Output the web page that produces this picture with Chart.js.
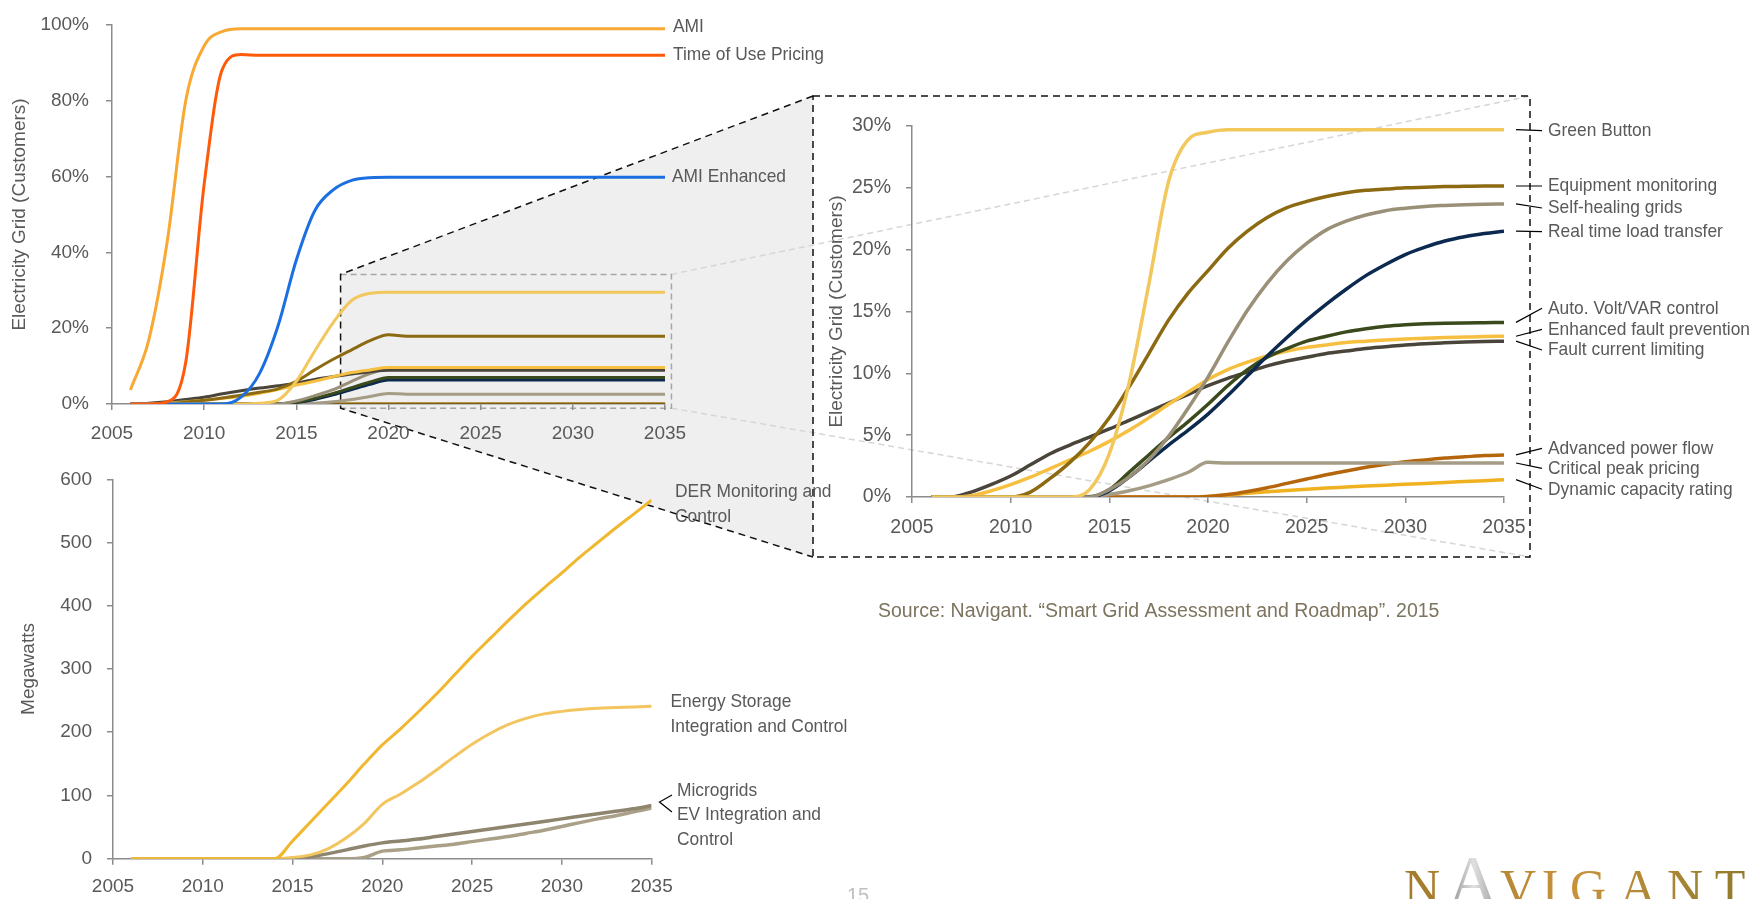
<!DOCTYPE html>
<html lang="en">
<head>
<meta charset="UTF-8">
<title>Smart Grid Assessment and Roadmap</title>
<script src="https://cdn.jsdelivr.net/npm/chart.js"></script>
<style>
  body { margin: 0; background: #fff; }
  #wrap { position: relative; width: 1754px; height: 899px; overflow: hidden; }
  canvas { position: absolute; }
</style>
</head>
<body>
<div id="wrap">
  <canvas id="bg" width="1754" height="899" style="left:0;top:0;z-index:0"></canvas>
  <canvas id="topChart" width="720" height="454" style="left:0;top:-4px;z-index:1"></canvas>
  <canvas id="mwChart" width="700" height="459" style="left:0;top:440px;z-index:1"></canvas>
  <canvas id="zoomChart" width="730" height="461" style="left:813px;top:96px;z-index:1"></canvas>
  <canvas id="fg" width="1754" height="899" style="left:0;top:0;z-index:2"></canvas>
</div>
<script>
// ---- data ----
const years = [2006, 2007, 2008, 2009, 2010, 2011, 2012, 2013, 2014, 2015,
               2016, 2017, 2018, 2019, 2020, 2021, 2022, 2023, 2024, 2025,
               2026, 2027, 2028, 2029, 2030, 2031, 2032, 2033, 2034, 2035];

// top chart, % of customers
const amiTop = [3.7, 17, 43, 80, 94.5, 98.3, 99, 99, 99, 99,
                99, 99, 99, 99, 99, 99, 99, 99, 99, 99,
                99, 99, 99, 99, 99, 99, 99, 99, 99, 99];
const touTop = [0, 0, 0.6, 11, 58, 88.5, 92.2, 92, 92, 92,
                92, 92, 92, 92, 92, 92, 92, 92, 92, 92,
                92, 92, 92, 92, 92, 92, 92, 92, 92, 92];
const amiEnhTop = [0, 0, 0, 0, 0, 0, 1.8, 8, 20.5, 38,
                   51, 56.5, 59, 59.7, 59.8, 59.8, 59.8, 59.8, 59.8, 59.8,
                   59.8, 59.8, 59.8, 59.8, 59.8, 59.8, 59.8, 59.8, 59.8, 59.8];
const greenTop = [0, 0, 0, 0, 0, 0, 0, 0.2, 1, 6,
                  14, 21.5, 27.3, 29.2, 29.5, 29.5, 29.5, 29.5, 29.5, 29.5,
                  29.5, 29.5, 29.5, 29.5, 29.5, 29.5, 29.5, 29.5, 29.5, 29.5];
const equipTop = [0, 0, 0.1, 0.5, 1, 1.6, 2.3, 3.1, 4, 6,
                  9, 11.8, 14.3, 16.7, 18.3, 17.9, 17.9, 17.9, 17.9, 17.9,
                  17.9, 17.9, 17.9, 17.9, 17.9, 17.9, 17.9, 17.9, 17.9, 17.9];
const faultPrevTop = [0, 0, 0.2, 0.6, 1, 1.5, 2, 2.8, 3.8, 5,
                      6, 7.2, 8.3, 9, 9.6, 9.6, 9.6, 9.6, 9.6, 9.6,
                      9.6, 9.6, 9.6, 9.6, 9.6, 9.6, 9.6, 9.6, 9.6, 9.6];
const faultLimTop = [0, 0.2, 0.6, 1.2, 1.8, 2.7, 3.5, 4.2, 4.8, 5.5,
                     6.5, 7.2, 7.9, 8.5, 8.9, 8.9, 8.9, 8.9, 8.9, 8.9,
                     8.9, 8.9, 8.9, 8.9, 8.9, 8.9, 8.9, 8.9, 8.9, 8.9];
const selfHealTop = [0, 0, 0, 0, 0, 0, 0, 0, 0, 0.8,
                     2.2, 3.8, 6, 8, 9.3, 9.2, 9.2, 9.2, 9.2, 9.2,
                     9.2, 9.2, 9.2, 9.2, 9.2, 9.2, 9.2, 9.2, 9.2, 9.2];
const voltTop = [0, 0, 0, 0, 0, 0, 0, 0, 0, 0.5,
                 1.5, 2.8, 4.3, 5.8, 7, 7, 7, 7, 7, 7,
                 7, 7, 7, 7, 7, 7, 7, 7, 7, 7];
const realTimeTop = [0, 0, 0, 0, 0, 0, 0, 0, 0, 0.4,
                     1.2, 2.4, 3.8, 5.2, 6.3, 6.3, 6.3, 6.3, 6.3, 6.3,
                     6.3, 6.3, 6.3, 6.3, 6.3, 6.3, 6.3, 6.3, 6.3, 6.3];
const peakTop = [null, 0, 0, 0, 0, 0, 0, 0, 0, 0,
                 0.2, 0.6, 1.2, 2, 2.8, 2.6, 2.6, 2.6, 2.6, 2.6,
                 2.6, 2.6, 2.6, 2.6, 2.6, 2.6, 2.6, 2.6, 2.6, 2.6];
const powerFlowTop = [0, 0, 0, 0, 0, 0, 0, 0, 0, 0,
                      0, 0, 0, 0, 0, 0, 0, 0, 0, 0,
                      0, 0, 0, 0, 0, 0, 0, 0, 0, 0];
const dynamicTop = [0, 0, 0, 0, 0, 0, 0, 0, 0, 0,
                    0, 0, 0, 0, 0, 0, 0, 0, 0, 0,
                    0, 0, 0, 0, 0, 0, 0, 0, 0, 0];

// inset chart, % of customers
const greenZoom = [0, 0, 0, 0, 0, 0, 0, 0, 0.6, 3.5,
                   9.2, 17.2, 25.5, 28.9, 29.5, 29.7, 29.7, 29.7, 29.7, 29.7,
                   29.7, 29.7, 29.7, 29.7, 29.7, 29.7, 29.7, 29.7, 29.7, 29.7];
const equipZoom = [0, 0, 0, 0, 0, 0.4, 1.5, 2.8, 4.4, 6.4,
                   8.9, 11.6, 14.3, 16.5, 18.3, 20.1, 21.5, 22.6, 23.4, 23.9,
                   24.3, 24.6, 24.8, 24.9, 25, 25.05, 25.1, 25.12, 25.14, 25.15];
const selfHealZoom = [0, 0, 0, 0, 0, 0, 0, 0, 0, 0.6,
                      1.6, 3, 4.9, 7.2, 9.7, 12.5, 15.1, 17.3, 19.1, 20.5,
                      21.6, 22.3, 22.8, 23.15, 23.35, 23.5, 23.58, 23.64, 23.68, 23.7];
const realTimeZoom = [0, 0, 0, 0, 0, 0, 0, 0, 0, 0.5,
                      1.6, 2.9, 4.2, 5.4, 6.7, 8.2, 9.8, 11.4, 12.9, 14.3,
                      15.6, 16.8, 17.9, 18.8, 19.6, 20.2, 20.7, 21.05, 21.3, 21.5];
const voltZoom = [0, 0, 0, 0, 0, 0, 0, 0, 0, 0.6,
                  2, 3.4, 4.8, 6.1, 7.5, 9, 10.3, 11.3, 12, 12.6,
                  13, 13.35, 13.6, 13.8, 13.92, 14, 14.05, 14.08, 14.1, 14.12];
const faultPrevZoom = [0, 0, 0.1, 0.5, 1, 1.6, 2.3, 3, 3.7, 4.5,
                       5.4, 6.4, 7.5, 8.5, 9.5, 10.3, 10.9, 11.4, 11.8, 12.1,
                       12.3, 12.5, 12.6, 12.7, 12.78, 12.84, 12.89, 12.93, 12.97, 13];
const faultLimZoom = [0, 0, 0.4, 1, 1.7, 2.6, 3.5, 4.2, 4.85, 5.5,
                      6.2, 6.9, 7.6, 8.3, 9, 9.6, 10.1, 10.6, 11, 11.3,
                      11.6, 11.8, 12, 12.15, 12.3, 12.4, 12.47, 12.53, 12.57, 12.6];
const peakZoom = [0, 0, 0, 0, 0, 0, 0, 0, 0.05, 0.2,
                  0.5, 0.9, 1.4, 2, 2.8, 2.75, 2.75, 2.75, 2.75, 2.75,
                  2.75, 2.75, 2.75, 2.75, 2.75, 2.75, 2.75, 2.75, 2.75, 2.75];
const powerFlowZoom = [0, 0, 0, 0, 0, 0, 0, 0, 0, 0,
                       0, 0, 0, 0, 0.05, 0.2, 0.45, 0.75, 1.1, 1.45,
                       1.8, 2.1, 2.4, 2.65, 2.85, 3, 3.15, 3.25, 3.35, 3.4];
const dynamicZoom = [0, 0, 0, 0, 0, 0, 0, 0, 0, 0,
                     0, 0, 0, 0, 0.05, 0.15, 0.3, 0.42, 0.53, 0.63,
                     0.72, 0.8, 0.88, 0.96, 1.03, 1.1, 1.18, 1.25, 1.32, 1.4];

// bottom chart, megawatts
const derMW = [0, 0, 0, 0, 0, 0, 0, 0, 0, 28,
               58, 88, 118, 150, 180, 205, 232, 260, 290, 320,
               348, 376, 403, 428, 452, 477, 500, 523, 545, 567];
const storageMW = [0, 0, 0, 0, 0, 0, 0, 0, 0, 2,
                   6, 16, 33, 56, 86, 102, 120, 140, 161, 181,
                   198, 212, 222, 229, 233, 236, 238, 239, 240, 241];
const microMW = [0, 0, 0, 0, 0, 0, 0, 0, 0, 0,
                 3, 8, 14, 20, 25, 28, 31, 35, 39, 43,
                 47, 51, 55, 59, 63, 67, 71, 75, 79, 84];
const evMW = [0, 0, 0, 0, 0, 0, 0, 0, 0, 0,
              0, 0, 0, 2, 12, 14, 17, 20, 23, 27,
              31, 35, 40, 45, 51, 57, 63, 68, 74, 80];

// ---- styling ----
Chart.defaults.font.family = "'Liberation Sans', Arial, sans-serif";
const axisGray = '#8C8C8C';
const textGray = '#595959';

function series(label, values, color, width) {
  return {
    label: label,
    data: years.map((yr, i) => ({ x: yr, y: values[i] })),
    borderColor: color,
    borderWidth: width,
    pointRadius: 0,
    pointHoverRadius: 0,
    cubicInterpolationMode: 'monotone',
    fill: false
  };
}

function scaleOptions(o) {
  return {
    x: {
      type: 'linear', min: 2005, max: 2035,
      afterFit: s => { s.height = o.xh; },
      border: { display: true, color: axisGray, width: 1.5 },
      grid: { drawOnChartArea: false, drawTicks: true, tickLength: 6, color: axisGray, lineWidth: 1.5 },
      ticks: { stepSize: 5, padding: o.xpad, color: textGray, font: { size: o.fs },
               maxRotation: 0, autoSkip: false, callback: v => String(v) }
    },
    y: {
      min: 0, max: o.ymax,
      afterFit: s => { s.width = o.yw; },
      border: { display: true, color: axisGray, width: 1.5 },
      grid: { drawOnChartArea: false, drawTicks: true, tickLength: 6, color: axisGray, lineWidth: 1.5 },
      ticks: { stepSize: o.step, padding: o.ypad, color: textGray, font: { size: o.fs }, callback: o.fmt },
      title: { display: true, text: o.title, color: textGray, font: { size: 19 },
               padding: { top: o.tpad, bottom: 0 } }
    }
  };
}

function baseOptions(padding, scales) {
  return {
    responsive: false,
    animation: false,
    events: [],
    layout: { padding: padding },
    plugins: { legend: { display: false }, tooltip: { enabled: false } },
    scales: scales
  };
}

const topChart = new Chart(document.getElementById('topChart'), {
  type: 'line',
  data: { datasets: [
    series('AMI', amiTop, '#F9A833', 3),
    series('Time of Use Pricing', touTop, '#FF5A0A', 3),
    series('AMI Enhanced', amiEnhTop, '#1C6FE0', 3),
    series('Green Button', greenTop, '#F2C75C', 3),
    series('Equipment monitoring', equipTop, '#8C6A12', 3),
    series('Enhanced fault prevention', faultPrevTop, '#F6BF3F', 3),
    series('Fault current limiting', faultLimTop, '#4A453A', 3),
    series('Self-healing grids', selfHealTop, '#9A9078', 3),
    series('Auto. Volt/VAR control', voltTop, '#3B4A1C', 3),
    series('Real time load transfer', realTimeTop, '#0C2A4F', 3),
    series('Critical peak pricing', peakTop, '#A59C86', 3),
    series('Advanced power flow', powerFlowTop, '#7E5E10', 3),
    series('Dynamic capacity rating', dynamicTop, '#F0B120', 3)
  ] },
  options: baseOptions({ left: 0, right: 55, top: 29, bottom: 0 },
    scaleOptions({ xh: 46, xpad: 12, yw: 112, ypad: 17, ymax: 100, step: 20, fs: 19,
                   fmt: v => v + '%', title: 'Electricity Grid (Customers)', tpad: 8 }))
});

const zoomSets = [
  ['Green Button', greenZoom, '#F2C75C'],
  ['Equipment monitoring', equipZoom, '#8C6A12'],
  ['Self-healing grids', selfHealZoom, '#9A9078'],
  ['Real time load transfer', realTimeZoom, '#0C2A4F'],
  ['Auto. Volt/VAR control', voltZoom, '#3B4A1C'],
  ['Enhanced fault prevention', faultPrevZoom, '#F6BF3F'],
  ['Fault current limiting', faultLimZoom, '#4A453A'],
  ['Critical peak pricing', peakZoom, '#A59C86'],
  ['Advanced power flow', powerFlowZoom, '#B5660D'],
  ['Dynamic capacity rating', dynamicZoom, '#F0B120']
];

const zoomChart = new Chart(document.getElementById('zoomChart'), {
  type: 'line',
  data: { datasets: zoomSets.map(s => series(s[0], s[1], s[2], 3.5)) },
  options: baseOptions({ left: 0, right: 39, top: 30, bottom: 0 },
    scaleOptions({ xh: 60, xpad: 12.5, yw: 99, ypad: 15, ymax: 30, step: 5, fs: 19.5,
                   fmt: v => v + '%', title: 'Electricity Grid (Customers)', tpad: 12 }))
});

const mwChart = new Chart(document.getElementById('mwChart'), {
  type: 'line',
  data: { datasets: [
    series('DER Monitoring and Control', derMW, '#F0B72F', 3),
    series('Energy Storage Integration and Control', storageMW, '#F3C55E', 3),
    series('Microgrids', microMW, '#8E856E', 3.5),
    series('EV Integration and Control', evMW, '#A9A087', 3.5)
  ] },
  options: baseOptions({ left: 0, right: 48.4, top: 39.3, bottom: 0 },
    scaleOptions({ xh: 40.3, xpad: 10.6, yw: 113, ypad: 15, ymax: 600, step: 100, fs: 19,
                   fmt: v => String(v), title: 'Megawatts', tpad: 17.6 }))
});

// ---- zoom callout (behind the charts) ----
const bg = document.getElementById('bg').getContext('2d');
const tc = document.getElementById('topChart');
const zc = document.getElementById('zoomChart');
const tx = topChart.scales.x, ty = topChart.scales.y;
const topX = v => tc.offsetLeft + tx.getPixelForValue(v);
const topY = v => tc.offsetTop + ty.getPixelForValue(v);
const sL = topX(2017.4), sR = topX(2035.35);
const sT = topY(34.2), sB = topY(-1.1);
const za = zoomChart.chartArea;
const bL = zc.offsetLeft + za.left - 99, bR = zc.offsetLeft + za.right + 26;
const bT = zc.offsetTop + za.top - 30, bB = zc.offsetTop + za.bottom + 60;

bg.fillStyle = '#EFEFEF';
bg.beginPath();
bg.moveTo(sL, sT); bg.lineTo(bL, bT); bg.lineTo(bL, bB); bg.lineTo(sL, sB);
bg.closePath();
bg.fill();
bg.fillStyle = '#fff';
bg.fillRect(bL, bT, bR - bL, bB - bT);

bg.setLineDash([6, 4]);
bg.lineWidth = 1.5;
bg.strokeStyle = '#D6D6D6';
bg.beginPath();
bg.moveTo(sR, sT); bg.lineTo(bR, bT);
bg.moveTo(sR, sB); bg.lineTo(bR, bB);
bg.stroke();
bg.strokeStyle = '#A6A6A6';
bg.beginPath();
bg.moveTo(sL, sT); bg.lineTo(sR, sT); bg.lineTo(sR, sB); bg.lineTo(sL, sB);
bg.stroke();
bg.setLineDash([7, 5]);
bg.strokeStyle = '#111';
bg.beginPath();
bg.moveTo(bL, bT); bg.lineTo(sL, sT); bg.lineTo(sL, sB); bg.lineTo(bL, bB);
bg.stroke();
bg.strokeRect(bL, bT, bR - bL, bB - bT);

// ---- labels (in front) ----
const fg = document.getElementById('fg').getContext('2d');
function label(text, x, y) {
  fg.save();
  fg.translate(x, y);
  fg.scale(0.915, 1);
  fg.font = "19px 'Liberation Sans', Arial, sans-serif";
  fg.fillStyle = textGray;
  fg.textBaseline = 'middle';
  fg.fillText(text, 0, 0);
  fg.restore();
}

const topEnd = topX(2035);
label('AMI', topEnd + 8, topY(amiTop[29]) - 2);
label('Time of Use Pricing', topEnd + 8, topY(touTop[29]) - 1);
label('AMI Enhanced', topEnd + 7, topY(amiEnhTop[29]) - 1);

const zx = zoomChart.scales.x, zy = zoomChart.scales.y;
const zEnd = zc.offsetLeft + zx.getPixelForValue(2035);
const zoomLabelY = [130.7, 186, 208, 231.7, 308.3, 329.3, 350, 468.3, 448.3, 489.3];
fg.setLineDash([]);
fg.strokeStyle = '#000';
fg.lineWidth = 1.2;
zoomSets.forEach((s, i) => {
  const vy = zc.offsetTop + zy.getPixelForValue(s[1][29]);
  fg.beginPath();
  fg.moveTo(zEnd + 12, vy);
  fg.lineTo(zEnd + 38, zoomLabelY[i]);
  fg.stroke();
  label(s[0], zEnd + 44, zoomLabelY[i]);
});

label('DER Monitoring and', 675, 491.7);
label('Control', 675, 516.7);
label('Energy Storage', 670.5, 701.7);
label('Integration and Control', 670.5, 726.7);
label('Microgrids', 677, 790.7);
label('EV Integration and', 677, 815);
label('Control', 677, 839.3);
fg.beginPath();
fg.moveTo(672, 795); fg.lineTo(659.5, 802); fg.lineTo(672, 812);
fg.stroke();

fg.font = "19.5px 'Liberation Sans', Arial, sans-serif";
fg.fillStyle = '#7D745F';
fg.textBaseline = 'middle';
fg.fillText('Source: Navigant. \u201CSmart Grid Assessment and Roadmap\u201D. 2015', 878, 612);

fg.font = "20px 'Liberation Sans', Arial, sans-serif";
fg.fillStyle = '#BFBFBF';
fg.textBaseline = 'top';
fg.fillText('15', 847, 886);

// logo
const gold = fg.createLinearGradient(1400, 0, 1754, 0);
gold.addColorStop(0, '#A07A2A');
gold.addColorStop(0.5, '#C8923C');
gold.addColorStop(1, '#8E7A2C');
const silver = fg.createLinearGradient(1447, 0, 1500, 0);
silver.addColorStop(0, '#8A8A8A');
silver.addColorStop(0.5, '#E0E0E0');
silver.addColorStop(1, '#9A9A9A');
const logo = [['N', 1422], ['A', 1473], ['V', 1518], ['I', 1550], ['G', 1588], ['A', 1638], ['N', 1685], ['T', 1730]];
fg.textAlign = 'center';
fg.textBaseline = 'alphabetic';
logo.forEach((l, i) => {
  if (i === 1) {
    fg.font = "70px 'Liberation Serif', serif";
    fg.fillStyle = silver;
  } else {
    fg.font = "50px 'Liberation Serif', serif";
    fg.fillStyle = gold;
  }
  fg.fillText(l[0], l[1], 904);
});
</script>
</body>
</html>
